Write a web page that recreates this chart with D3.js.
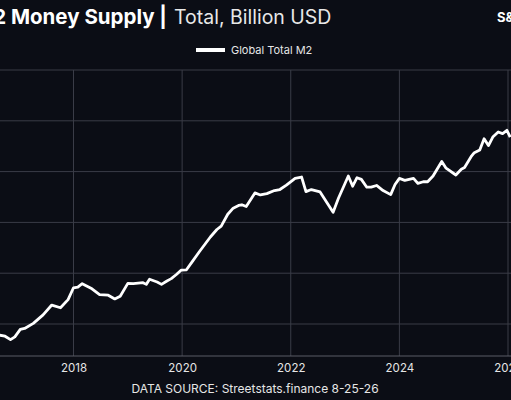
<!DOCTYPE html>
<html>
<head>
<meta charset="utf-8">
<script src="https://cdn.jsdelivr.net/npm/d3@7"></script>
<style>
  body { margin:0; background:#0b0d15; overflow:hidden; }
  text { font-family: Inter, "Noto Sans", sans-serif; }
</style>
</head>
<body>
<script>
// Global Total M2, billion USD
var dates = [2016.64,2016.74,2016.84,2016.92,2017.02,2017.10,2017.26,2017.44,2017.60,2017.76,2017.90,
  2018.00,2018.08,2018.16,2018.34,2018.48,2018.64,2018.76,2018.86,2019.00,2019.10,2019.28,2019.34,2019.40,
  2019.54,2019.62,2019.72,2019.80,2019.90,2019.98,2020.08,2020.20,2020.32,2020.52,2020.64,2020.72,2020.84,
  2020.94,2021.04,2021.10,2021.18,2021.34,2021.44,2021.56,2021.70,2021.80,2021.92,2022.08,2022.20,2022.28,
  2022.38,2022.54,2022.78,2022.88,2023.06,2023.14,2023.22,2023.30,2023.40,2023.48,2023.58,2023.70,2023.84,
  2023.92,2024.00,2024.10,2024.26,2024.34,2024.44,2024.52,2024.62,2024.78,2024.86,2025.04,2025.14,2025.20,
  2025.32,2025.38,2025.48,2025.56,2025.64,2025.72,2025.82,2025.90,2025.98,2026.04];
var m2 = [67800,67600,66930,67470,68930,69130,70130,71800,73730,73200,74800,
  77130,77270,77930,76930,75800,75670,74930,75470,78000,77930,78130,77800,78800,
  78270,77800,78470,78930,79800,80600,80670,82470,84270,87130,88600,89270,91600,
  92800,93330,93470,93130,95800,95400,95670,96270,96470,97330,98670,98930,96070,
  96470,96000,92000,94800,99130,97130,98800,98470,96930,96930,97270,96270,95470,
  97470,98670,98270,98670,97670,98000,98000,99130,102000,100670,99330,100470,100800,
  102930,103730,104270,106470,105130,106800,107800,107470,108130,106800];
var yTicks = [70000,80000,90000,100000,110000,120000];
var xTicks = [2018,2020,2022,2024,2026];

var W = 511, H = 400;
var svg = d3.select("body").append("svg").attr("width",W).attr("height",H);
svg.append("rect").attr("width",W).attr("height",H).attr("fill","#0b0d15");

var x = d3.scaleLinear().domain([2018,2026]).range([73.5,508]);
var y = d3.scaleLinear().domain([70000,120000]).range([324,70]);
var bottom = 356;

var g = svg.append("g");
g.selectAll(".hg").data(yTicks).enter().append("line")
  .attr("x1",0).attr("x2",W).attr("y1",function(d){return y(d);}).attr("y2",function(d){return y(d);})
  .attr("stroke","#3a3c47").attr("stroke-width",1);
g.selectAll(".vg").data(xTicks).enter().append("line")
  .attr("x1",function(d){return x(d);}).attr("x2",function(d){return x(d);})
  .attr("y1",70).attr("y2",bottom).attr("stroke","#3a3c47").attr("stroke-width",1);

var xAxis = g.append("g").attr("transform","translate(0,"+bottom+")")
  .call(d3.axisBottom(x).tickValues(xTicks).tickFormat(d3.format("d")).tickSize(0).tickPadding(8));
xAxis.select(".domain").attr("stroke","#5a5c66").attr("d","M0,0H"+W);
xAxis.selectAll("text").attr("fill","#e6e6e6").attr("font-size",11.5);

var line = d3.line().x(function(d,i){return x(dates[i]);}).y(function(d){return y(d);});
g.append("path").datum(m2).attr("d",line).attr("fill","none")
  .attr("stroke","#ffffff").attr("stroke-width",2.8).attr("stroke-linejoin","round");

// title
svg.append("text").attr("x",167).attr("y",24).attr("text-anchor","end")
  .attr("fill","#fff").attr("font-size",20.5).attr("font-weight",700).text("Global M2 Money Supply |");
svg.append("text").attr("x",174).attr("y",24)
  .attr("fill","#e8e8e8").attr("font-size",19.5).text("Total, Billion USD");
svg.append("text").attr("x",497).attr("y",22)
  .attr("fill","#fff").attr("font-size",13).attr("font-weight",700).text("S&P");

// legend
svg.append("line").attr("x1",196).attr("x2",225).attr("y1",50).attr("y2",50)
  .attr("stroke","#fff").attr("stroke-width",4);
svg.append("text").attr("x",231).attr("y",54).attr("fill","#e6e6e6").attr("font-size",11).text("Global Total M2");

svg.append("text").attr("x",255).attr("y",393).attr("text-anchor","middle")
  .attr("fill","#e6e6e6").attr("font-size",12).text("DATA SOURCE: Streetstats.finance 8-25-26");
</script>
</body>
</html>
